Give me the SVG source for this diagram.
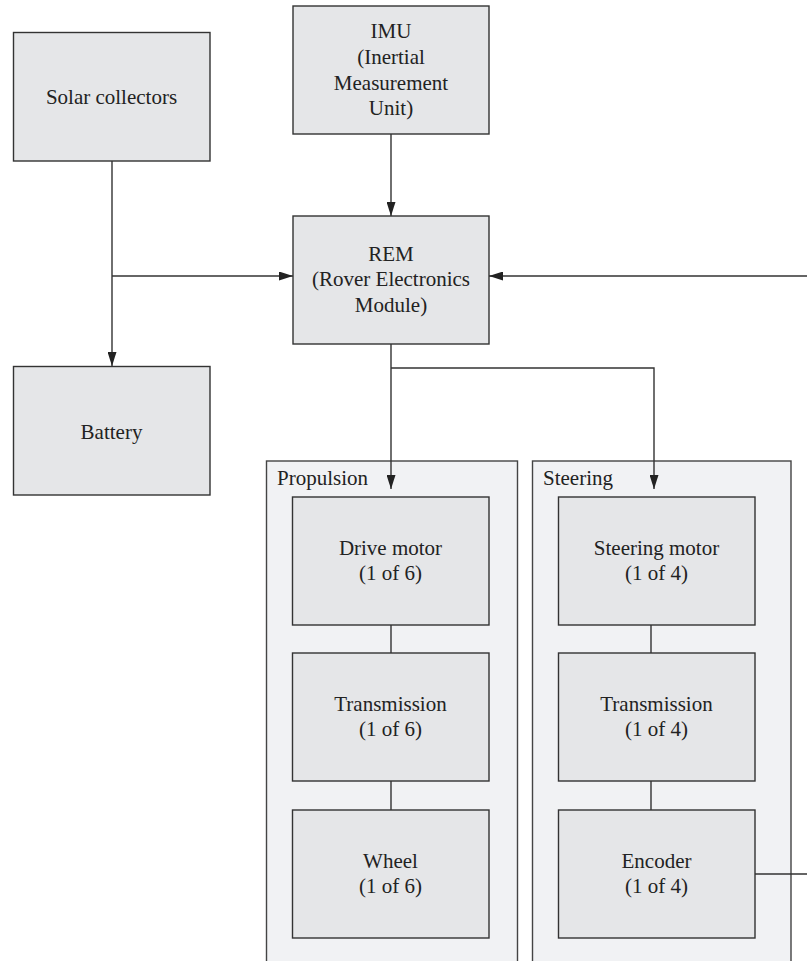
<svg xmlns="http://www.w3.org/2000/svg" width="807" height="961" viewBox="0 0 807 961">
<defs>
<style>
.box{fill:#e5e6e8;stroke:#333;stroke-width:1.4}
.cont{fill:#f1f2f4;stroke:#444;stroke-width:1.4}
.t{font-family:"Liberation Serif","Times New Roman",serif;font-size:21px;fill:#222;text-anchor:middle}
.lbl{font-family:"Liberation Serif","Times New Roman",serif;font-size:21px;fill:#222}
.c{fill:none;stroke:#333;stroke-width:1.4}
</style>
<marker id="ah" viewBox="0 0 14 9" refX="14" refY="4.5" markerWidth="14" markerHeight="9" markerUnits="userSpaceOnUse" orient="auto">
<path d="M0,0 L14,4.5 L0,9 z" fill="#222"/>
</marker>
</defs>
<rect width="807" height="961" fill="#fff"/>
<g id="propulsion">
<rect class="cont" x="266.5" y="461" width="251" height="510"/>
<text class="lbl" x="277" y="485">Propulsion</text>
</g>
<g id="steering">
<rect class="cont" x="532.5" y="461" width="258.5" height="510"/>
<text class="lbl" x="543" y="485">Steering</text>
</g>
<g id="connectors">
<path class="c" d="M112,161 V366" marker-end="url(#ah)"/>
<path class="c" d="M112,276 H293" marker-end="url(#ah)"/>
<path class="c" d="M391,134 V216" marker-end="url(#ah)"/>
<path class="c" d="M391,344 V489" marker-end="url(#ah)"/>
<path class="c" d="M391,368 H654 V489" marker-end="url(#ah)"/>
<path class="c" d="M755,874 H812 V276 H489" marker-end="url(#ah)"/>
<path class="c" d="M391,625 V653"/>
<path class="c" d="M391,781 V810"/>
<path class="c" d="M651,625 V653"/>
<path class="c" d="M651,781 V810"/>
</g>
<g id="solar">
<rect class="box" x="13.5" y="32.5" width="196.5" height="128.5"/>
<text class="t" x="111.5" y="104">Solar collectors</text>
</g>
<g id="imu">
<rect class="box" x="293" y="6" width="196" height="128"/>
<text class="t" x="391" y="38">IMU</text>
<text class="t" x="391" y="64">(Inertial</text>
<text class="t" x="391" y="89.5">Measurement</text>
<text class="t" x="391" y="115">Unit)</text>
</g>
<g id="rem">
<rect class="box" x="293" y="216" width="196" height="128"/>
<text class="t" x="391" y="261">REM</text>
<text class="t" x="391" y="286">(Rover Electronics</text>
<text class="t" x="391" y="312">Module)</text>
</g>
<g id="battery">
<rect class="box" x="13.5" y="366.5" width="196.5" height="128.5"/>
<text class="t" x="111.5" y="439">Battery</text>
</g>
<g id="drive-motor">
<rect class="box" x="292.5" y="497" width="196.5" height="128"/>
<text class="t" x="390.5" y="555">Drive motor</text>
<text class="t" x="390.5" y="580">(1 of 6)</text>
</g>
<g id="transmission-p">
<rect class="box" x="292.5" y="653" width="196.5" height="128"/>
<text class="t" x="390.5" y="711">Transmission</text>
<text class="t" x="390.5" y="736">(1 of 6)</text>
</g>
<g id="wheel">
<rect class="box" x="292.5" y="810" width="196.5" height="128"/>
<text class="t" x="390.5" y="868">Wheel</text>
<text class="t" x="390.5" y="893">(1 of 6)</text>
</g>
<g id="steering-motor">
<rect class="box" x="558.5" y="497" width="196.5" height="128"/>
<text class="t" x="656.5" y="555">Steering motor</text>
<text class="t" x="656.5" y="580">(1 of 4)</text>
</g>
<g id="transmission-s">
<rect class="box" x="558.5" y="653" width="196.5" height="128"/>
<text class="t" x="656.5" y="711">Transmission</text>
<text class="t" x="656.5" y="736">(1 of 4)</text>
</g>
<g id="encoder">
<rect class="box" x="558.5" y="810" width="196.5" height="128"/>
<text class="t" x="656.5" y="868">Encoder</text>
<text class="t" x="656.5" y="893">(1 of 4)</text>
</g>
</svg>
